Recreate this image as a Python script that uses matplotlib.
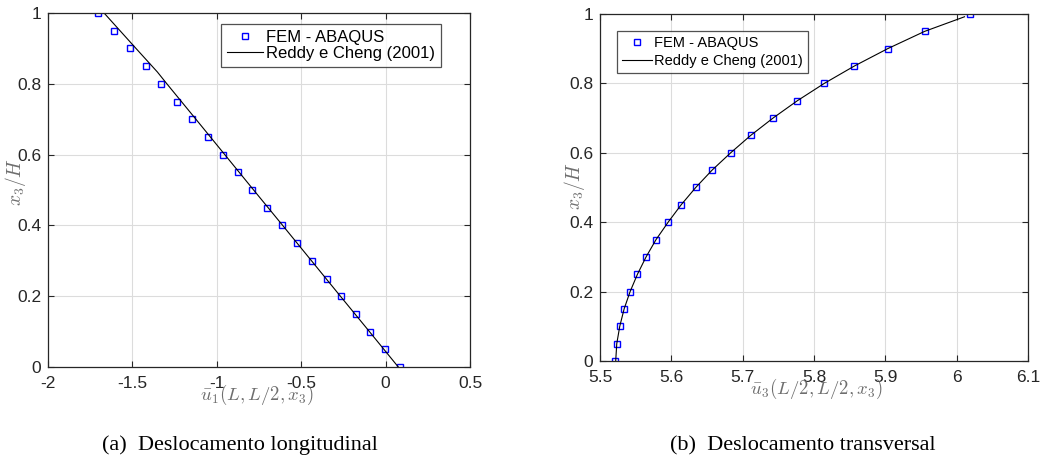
import matplotlib
matplotlib.use("Agg")
import matplotlib.pyplot as plt

plt.rcParams["font.family"] = ["Liberation Sans", "DejaVu Sans"]
plt.rcParams["mathtext.fontset"] = "cm"

# normalized thickness coordinate
z_fem = [0.0, 0.05, 0.1, 0.15, 0.2, 0.25, 0.3, 0.35, 0.4, 0.45, 0.5,
         0.55, 0.6, 0.65, 0.7, 0.75, 0.8, 0.85, 0.9, 0.95, 1.0]

# (a) longitudinal displacement
u1_fem = [0.083, -0.002, -0.091, -0.176, -0.263, -0.350, -0.437, -0.524,
          -0.613, -0.702, -0.789, -0.877, -0.966, -1.055, -1.146, -1.235,
          -1.330, -1.421, -1.514, -1.607, -1.702]
z_ref1 = [0.0, 0.1, 0.2, 0.3, 0.4, 0.5, 0.6, 0.7, 0.8, 0.8333, 0.9, 1.0]
u1_ref = [0.075, -0.096, -0.268, -0.439, -0.610, -0.782, -0.953, -1.124,
          -1.296, -1.352, -1.479, -1.668]

# (b) transverse displacement
u3_fem = [5.521, 5.5233, 5.5275, 5.5336, 5.542, 5.5523, 5.5644, 5.5784,
          5.5953, 5.6135, 5.634, 5.6569, 5.683, 5.711, 5.7423, 5.7764,
          5.8142, 5.8563, 5.903, 5.9562, 6.0192]
z_ref3 = [0.0, 0.05, 0.1, 0.15, 0.2, 0.25, 0.3, 0.35, 0.4, 0.45, 0.5,
          0.55, 0.6, 0.65, 0.7, 0.75, 0.8, 0.85, 0.9, 0.95, 0.992]
u3_ref = [5.522, 5.5235, 5.5277, 5.5338, 5.5422, 5.5525, 5.5646, 5.5786,
          5.5955, 5.6137, 5.6342, 5.6571, 5.6832, 5.7112, 5.7425, 5.7766,
          5.8144, 5.8565, 5.9032, 5.9552, 6.011]

fig = plt.figure(figsize=(10.53, 4.63), dpi=100)
ax1 = fig.add_axes([0.0456, 0.2073, 0.4008, 0.7646])
ax2 = fig.add_axes([0.5698, 0.2203, 0.4065, 0.7495])

axcol = "#262626"
labcol = "#6e6e6e"


def style_axes(ax, xlim, xticks, xticklabels, xlabel, xlab_xy, ylab_xy):
    ax.set_xlim(xlim)
    ax.set_ylim(0, 1)
    ax.set_xticks(xticks)
    ax.set_xticklabels(xticklabels)
    ax.set_yticks([0, 0.2, 0.4, 0.6, 0.8, 1])
    ax.set_yticklabels(["0", "0.2", "0.4", "0.6", "0.8", "1"])
    ax.tick_params(direction="in", top=True, right=True, length=4,
                   width=0.8, colors=axcol, labelsize=12.5)
    ax.tick_params(axis="x", pad=6.5)
    ax.tick_params(axis="y", pad=5)
    for s in ax.spines.values():
        s.set_color(axcol)
        s.set_linewidth(0.9)
    ax.grid(True, color="#dcdcdc", linewidth=0.8)
    ax.set_axisbelow(True)
    ax.set_xlabel(xlabel, fontsize=13.5, color=labcol)
    ax.set_ylabel(r"$x_3/H$", fontsize=14, color=labcol)
    ax.xaxis.set_label_coords(*xlab_xy)
    ax.yaxis.set_label_coords(*ylab_xy)


def add_legend(ax, anchor, loc, size, hlen, lspace):
    leg = ax.legend(loc=loc, bbox_to_anchor=anchor, fontsize=size,
                    fancybox=False, edgecolor=axcol, borderpad=0.35,
                    handlelength=hlen, handletextpad=0.15,
                    labelspacing=lspace, borderaxespad=0)
    leg.get_frame().set_linewidth(0.9)
    return leg


ax1.plot(u1_fem, z_fem, "s", mfc="none", mec="blue", ms=4.8, mew=1.0,
         label="FEM - ABAQUS")
ax1.plot(u1_ref, z_ref1, "-", color="black", lw=0.8,
         label="Reddy e Cheng (2001)")
style_axes(ax1, (-2, 0.5), [-2, -1.5, -1, -0.5, 0, 0.5],
           ["-2", "-1.5", "-1", "-0.5", "0", "0.5"],
           r"$\bar{u}_1(L,L/2,x_3)$", (0.495, -0.045), (-0.047, 0.523))
add_legend(ax1, (0.93, 0.968), "upper right", 12, 2.2, 0.05)

ax2.plot(u3_fem, z_fem, "s", mfc="none", mec="blue", ms=4.8, mew=1.0,
         label="FEM - ABAQUS")
ax2.plot(u3_ref, z_ref3, "-", color="black", lw=0.8,
         label="Reddy e Cheng (2001)")
style_axes(ax2, (5.5, 6.1), [5.5, 5.6, 5.7, 5.8, 5.9, 6.0, 6.1],
           ["5.5", "5.6", "5.7", "5.8", "5.9", "6", "6.1"],
           r"$\bar{u}_3(L/2,L/2,x_3)$", (0.505, -0.046), (-0.030, 0.504))
add_legend(ax2, (0.04, 0.95), "upper left", 10.5, 2.05, 0.22)

fig.text(0.228, 0.038, "(a)  Deslocamento longitudinal", ha="center",
         va="center", family=["Liberation Serif"], fontsize=16)
fig.text(0.7625, 0.038, "(b)  Deslocamento transversal", ha="center",
         va="center", family=["Liberation Serif"], fontsize=16)

fig.savefig("out.png", dpi=100)
